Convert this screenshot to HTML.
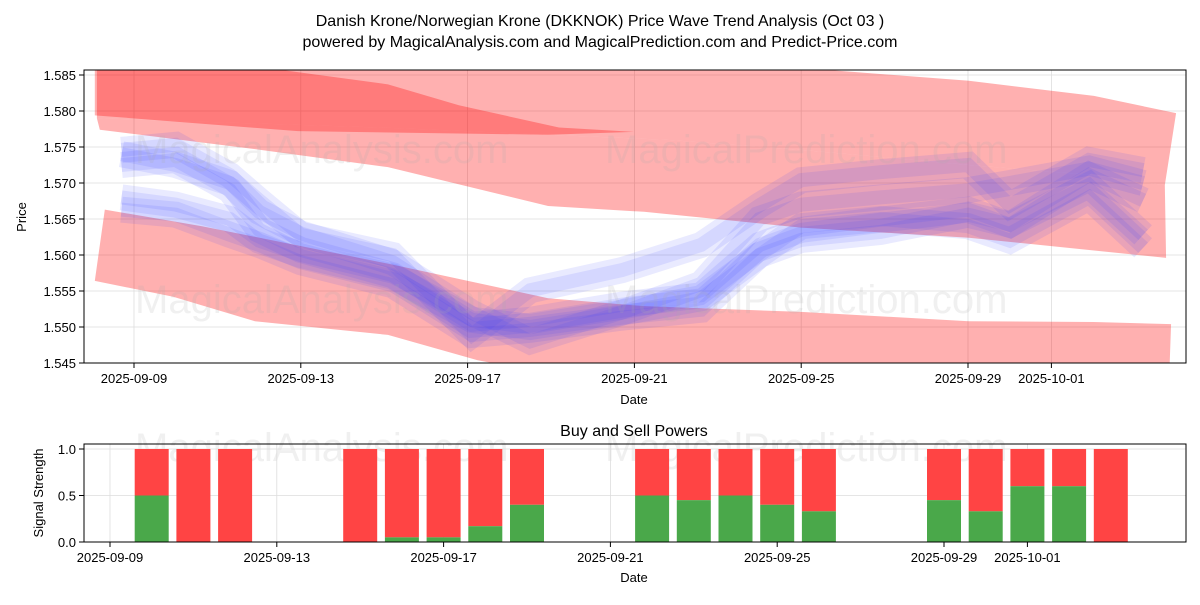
<!DOCTYPE html>
<html><head><meta charset="utf-8"><style>
body{margin:0;background:#fff;}
svg text{font-family:"Liberation Sans","DejaVu Sans",sans-serif;}
</style></head><body>
<svg id="c" width="1200" height="600" xmlns="http://www.w3.org/2000/svg">
<text x="600" y="26" font-size="16" text-anchor="middle">Danish Krone/Norwegian Krone (DKKNOK) Price Wave Trend Analysis (Oct 03 )</text>
<text x="600" y="47" font-size="16" text-anchor="middle">powered by MagicalAnalysis.com and MagicalPrediction.com and Predict-Price.com</text>
<defs><clipPath id="cp1"><rect x="84" y="70" width="1102" height="293"/></clipPath></defs>
<g id="grid1"></g>
<g id="bands" clip-path="url(#cp1)"></g>
<g id="waves" clip-path="url(#cp1)"></g>
<g id="wm" fill="#aaa" fill-opacity="0.18" font-size="40">
<text x="135" y="163">MagicalAnalysis.com</text>
<text x="605" y="163">MagicalPrediction.com</text>
<text x="135" y="313">MagicalAnalysis.com</text>
<text x="605" y="313">MagicalPrediction.com</text>
<text x="135" y="461">MagicalAnalysis.com</text>
<text x="605" y="461">MagicalPrediction.com</text>
</g>
<rect x="84" y="70" width="1102" height="293" fill="none" stroke="#000" stroke-width="1"/>
<g id="ax1"></g>
<text x="634" y="404" font-size="13" text-anchor="middle">Date</text>
<text transform="translate(26,217) rotate(-90)" font-size="13" text-anchor="middle">Price</text>
<text x="634" y="436" font-size="16" text-anchor="middle">Buy and Sell Powers</text>
<g id="grid2"></g>
<g id="bars"></g>
<rect x="84" y="444" width="1102" height="98" fill="none" stroke="#000" stroke-width="1"/>
<g id="ax2"></g>
<text x="634" y="582" font-size="13" text-anchor="middle">Date</text>
<text transform="translate(43,493) rotate(-90)" font-size="13" text-anchor="middle">Signal Strength</text>
</svg>
<script>
const NS="http://www.w3.org/2000/svg";
// ---- data ----
const dateTicks=["2025-09-09","2025-09-13","2025-09-17","2025-09-21","2025-09-25","2025-09-29","2025-10-01"];
const dateTickDays=[0,4,8,12,16,20,22];
const priceTicks=[1.545,1.550,1.555,1.560,1.565,1.570,1.575,1.580,1.585];
const waveDays=[-0.3,1,2.3,3,4,6.2,8.1,9.5,11.7,13.6,15,16,17.9,20,21,22.9,24.2];
const wave1=[1.5725,1.5732,1.5690,1.5635,1.5607,1.5572,1.5503,1.5510,1.5531,1.5544,1.5614,1.5635,1.5649,1.5663,1.5642,1.5711,1.5676];
const wave2=[1.5663,1.5656,1.5628,1.5614,1.5590,1.5558,1.5489,1.5496,1.5513,1.5524,1.5600,1.5621,1.5632,1.5656,1.5642,1.5697,1.5628];
const wave3=[1.5746,1.5753,1.5711,1.5676,1.5628,1.5600,1.5489,1.5551,1.5579,1.5614,1.5669,1.5704,1.5715,1.5725,1.5669,1.5732,1.5718];
const wave4=[1.5740,1.5725,1.5700,1.5660,1.5630,1.5590,1.5520,1.5480,1.5520,1.5560,1.5650,1.5670,1.5680,1.5690,1.5700,1.5720,1.5700];
const wave5=[1.5680,1.5670,1.5650,1.5620,1.5600,1.5570,1.5510,1.5500,1.5520,1.5540,1.5600,1.5640,1.5650,1.5640,1.5620,1.5680,1.5610];
const bandBDays=[-0.89,15.97,20.02,23.02,24.99,24.72,23.02,20.02,16.0,12.76,9.93,6.38,-0.89];
const bandBPrices=[1.5894,1.5860,1.5842,1.5821,1.5797,1.5697,1.5711,1.5725,1.5746,1.5760,1.5767,1.5776,1.5790];
const bandADays=[-0.94,2.2,2.9,6.09,7.79,10.19,11.99,9.93,3.93,-0.94];
const bandAPrices=[1.5894,1.5894,1.5862,1.5837,1.5808,1.5777,1.5771,1.5767,1.5772,1.5794];
const bandCDays=[-0.89,6.38,9.93,12.76,16.0,20.02,23.02,24.72,24.75,20.02,16.0,12.23,9.93,6.09,2.9,-0.82];
const bandCPrices=[1.5790,1.5776,1.5767,1.5760,1.5746,1.5725,1.5711,1.5697,1.5596,1.5624,1.5638,1.5660,1.5668,1.5722,1.5747,1.5774];
const bandDDays=[-0.70,1.63,6.09,9.93,12.23,16.0,20.02,23.02,24.87,24.82,20.46,9.93,8.23,6.09,2.9,0.94,-0.94];
const bandDPrices=[1.5663,1.5640,1.5588,1.5540,1.5529,1.5521,1.5508,1.5507,1.5504,1.5422,1.5426,1.5435,1.5454,1.5489,1.5508,1.5542,1.5564];
const barDays=[1,2,3,6,7,8,9,10,13,14,15,16,17,20,21,22,23,24];
const buyValues=[0.5,0,0,0,0.05,0.05,0.17,0.4,0.5,0.45,0.5,0.4,0.33,0.45,0.33,0.6,0.6,0];
const sigTicks=[0,0.5,1.0];
// ---- scales ----
const x1=d=>134+41.7*d;
const y1=p=>363-(p-1.545)*7200;
const x2=d=>110+41.7*d;
const y2=v=>542-v*93;
function el(tag,attrs,parent){const e=document.createElementNS(NS,tag);for(const k in attrs)e.setAttribute(k,attrs[k]);document.getElementById(parent).appendChild(e);return e;}
dateTickDays.forEach((d,i)=>{
 const g=el('line',{x1:x1(d),x2:x1(d),y1:70,y2:363,stroke:'#ddd','stroke-width':0.8},'grid1');
 
 
 const t=el('line',{x1:x1(d),x2:x1(d),y1:363,y2:368,stroke:'#000'},'ax1');
 
 
 const l=el('text',{x:x1(d),y:383,'font-size':13,'text-anchor':'middle'},'ax1');l.textContent=dateTicks[i];
 
 
 const g2=el('line',{x1:x2(d),x2:x2(d),y1:444,y2:542,stroke:'#ddd','stroke-width':0.8},'grid2');
 
 
 const t2=el('line',{x1:x2(d),x2:x2(d),y1:542,y2:547,stroke:'#000'},'ax2');
 
 
 const l2=el('text',{x:x2(d),y:562,'font-size':13,'text-anchor':'middle'},'ax2');l2.textContent=dateTicks[i];
 
 
});
priceTicks.forEach(p=>{
 const g=el('line',{x1:84,x2:1186,y1:y1(p),y2:y1(p),stroke:'#ddd','stroke-width':0.8},'grid1');
 
 
 const t=el('line',{x1:79,x2:84,y1:y1(p),y2:y1(p),stroke:'#000'},'ax1');
 
 
 const l=el('text',{x:76,y:y1(p)+5,'font-size':13,'text-anchor':'end'},'ax1');l.textContent=p.toFixed(3);
 
 
});
sigTicks.forEach(v=>{
 const g=el('line',{x1:84,x2:1186,y1:y2(v),y2:y2(v),stroke:'#ddd','stroke-width':0.8},'grid2');
 
 
 const t=el('line',{x1:79,x2:84,y1:y2(v),y2:y2(v),stroke:'#000'},'ax2');
 
 
 const l=el('text',{x:76,y:y2(v)+5,'font-size':13,'text-anchor':'end'},'ax2');l.textContent=v.toFixed(1);
 
 
});
[[bandBDays,bandBPrices,'band-upper',0.31],[bandADays,bandAPrices,'band-upper-dark',0.3],[bandCDays,bandCPrices,'band-middle',0.31],[bandDDays,bandDPrices,'band-lower',0.31]].forEach(b=>{
 const pts=b[0].map((d,i)=>x1(d)+','+y1(b[1][i])).join(' ');
 const p=el('polygon',{points:pts,fill:'#ff0000','fill-opacity':b[3]},'bands');
 
 
});
[wave1,wave2,wave3,wave4,wave5].forEach((w,k)=>{
 const pts=w.map((p,i)=>x1(waveDays[i])+','+y1(p)).join(' ');
 [26,14].forEach(sw=>{
  const l=el('polyline',{points:pts,fill:'none',stroke:'#3344ff','stroke-opacity':0.11,'stroke-width':sw,'stroke-linejoin':'miter'},'waves');
  
  
 });
});
barDays.forEach((d,i)=>{
 const cx=x2(d);
 const r=el('rect',{x:cx-17,y:y2(1),width:34,height:y2(buyValues[i])-y2(1),fill:'#ff4444'},'bars');
 
 
 const g=el('rect',{x:cx-17,y:y2(buyValues[i]),width:34,height:y2(0)-y2(buyValues[i]),fill:'#4aa84a'},'bars');
 
 
});
</script>
</body></html>
